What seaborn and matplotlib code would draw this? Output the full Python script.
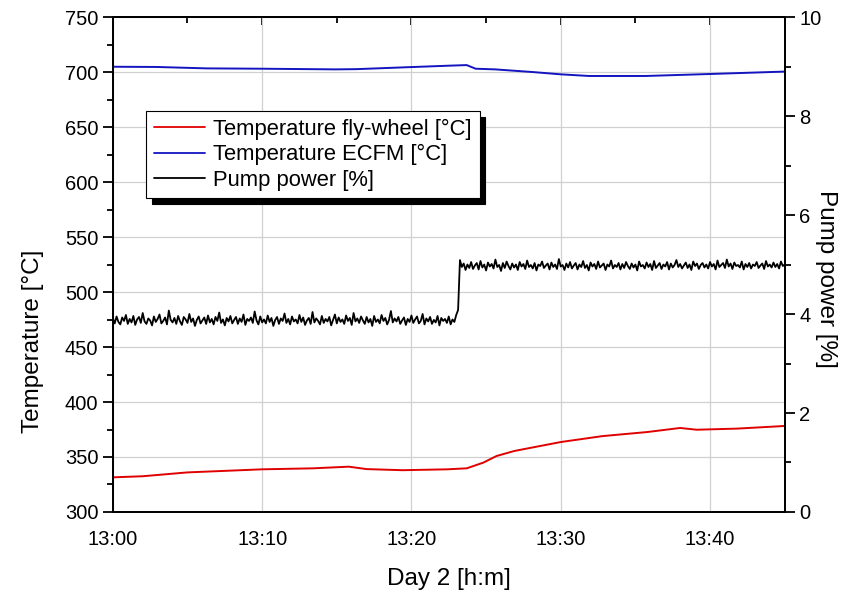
import numpy as np
import pandas as pd
import matplotlib.pyplot as plt
import seaborn as sns
from matplotlib.ticker import MultipleLocator

# minutes after 13:00
red_min = [0, 2, 5, 10, 13.4, 15.8, 17, 19.4, 22.4, 23.7, 24.8, 25.7, 26.9, 30, 32.8, 35.8, 38, 39.1, 41.8, 45]
red_val = [331.5, 332.5, 336.0, 338.8, 339.7, 341.2, 339.0, 338.0, 338.8, 339.7, 344.8, 350.9, 355.5, 363.6,
           369.0, 372.7, 376.4, 374.8, 375.8, 378.2]

blue_min = [0, 2.9, 6.3, 10, 14.9, 16.3, 20, 22.6, 23.7, 24.3, 25.6, 28.1, 30, 31.9, 35.7, 40, 45]
blue_val = [704.8, 704.6, 703.3, 703.0, 702.4, 702.6, 704.5, 705.8, 706.3, 703.0, 702.4, 700.0, 697.9,
            696.4, 696.4, 698.2, 700.4]

# pump power, one reading every 0.125 min (before / after the step)
pump_low = [3.92, 3.81, 3.95, 3.84, 3.79, 3.93, 3.86, 3.98, 3.80, 3.90, 3.83, 3.96,
            3.78, 3.89, 3.94, 3.82, 4.02, 3.85, 3.80, 3.91, 3.87, 3.77, 3.95, 3.84,
            3.90, 3.99, 3.81, 3.86, 3.93, 3.79, 4.07, 3.88, 3.83, 3.92, 3.80, 3.96,
            3.85, 3.78, 3.94, 3.89, 3.82, 4.00, 3.84, 3.91, 3.76, 3.88, 3.95, 3.81,
            3.87, 3.93, 3.80, 3.97, 3.83, 3.90, 3.79, 3.94, 3.86, 4.03, 3.82, 3.89,
            3.77, 3.92, 3.85, 3.96, 3.81, 3.88, 3.94, 3.80, 3.91, 3.84, 3.99, 3.78,
            3.90, 3.86, 3.93, 3.82, 4.05, 3.87, 3.79, 3.95, 3.83, 3.89, 3.81, 3.97,
            3.84, 3.92, 3.76, 3.88, 3.94, 3.80, 3.91, 3.86, 4.01, 3.82, 3.90, 3.79,
            3.95, 3.85, 3.89, 3.81, 3.98, 3.84, 3.93, 3.78, 3.87, 3.92, 3.80, 4.04,
            3.83, 3.91, 3.86, 3.79, 3.96, 3.82, 3.90, 3.85, 3.94, 3.77, 3.88, 3.99,
            3.81, 3.93, 3.84, 3.89, 3.80, 3.97, 3.86, 3.92, 3.78, 4.02, 3.85, 3.91,
            3.82, 3.95, 3.87, 3.80, 3.94, 3.83, 3.90, 3.76, 3.96, 3.84, 3.89, 3.81,
            3.98, 3.86, 3.92, 3.79, 3.88, 4.06, 3.83, 3.91, 3.85, 3.94, 3.80, 3.87,
            3.93, 3.78, 3.90, 3.84, 3.97, 3.82, 3.89, 3.95, 3.81, 3.86, 4.00, 3.79,
            3.91, 3.85, 3.94, 3.80, 3.88, 3.83, 3.96, 3.77, 3.92, 3.86, 3.90, 3.82,
            3.95, 3.79, 3.89, 3.84, 3.98, 4.08]
pump_high = [5.09, 4.95, 5.02, 4.89, 5.00, 4.93, 5.05, 4.91, 4.98, 5.03, 4.90, 5.07,
             4.94, 5.00, 4.88, 5.04, 4.96, 5.01, 4.92, 5.10, 4.95, 4.99, 4.87, 5.03,
             4.93, 5.06, 4.97, 4.90, 5.02, 4.94, 5.00, 4.89, 5.05, 4.96, 5.01, 4.91,
             5.08, 4.95, 4.99, 4.92, 5.03, 4.88, 5.00, 4.97, 5.06, 4.93, 4.98, 5.02,
             4.90, 5.04, 4.95, 5.00, 4.91, 5.11, 4.96, 4.99, 4.89, 5.02, 4.94, 5.05,
             4.92, 4.98, 5.03, 4.90, 5.00, 4.95, 5.07, 4.93, 4.99, 4.88, 5.04, 4.96,
             5.01, 4.91, 5.06, 4.94, 4.98, 5.02, 4.89, 5.00, 4.96, 5.08, 4.92, 4.99,
             4.95, 5.03, 4.90, 5.01, 4.93, 5.05, 4.97, 4.91, 5.02, 4.94, 5.00, 4.88,
             5.06, 4.96, 4.99, 4.92, 5.04, 4.95, 5.01, 4.89, 5.07, 4.93, 4.98, 5.03,
             4.91, 5.00, 4.96, 5.05, 4.90, 5.02, 4.94, 4.99, 5.09, 4.95, 5.01, 4.92,
             4.98, 5.04, 4.93, 5.00, 4.89, 5.06, 4.97, 5.02, 4.91, 4.99, 5.03, 4.94,
             5.00, 4.92, 5.05, 4.96, 5.01, 4.90, 5.08, 4.95, 4.99, 5.03, 4.93, 5.10,
             4.96, 5.02, 4.91, 5.04, 4.97, 4.99, 4.94, 5.06, 4.90, 5.01, 4.95, 5.03,
             4.92, 5.00, 4.97, 5.05, 4.93, 4.98, 5.02, 4.91, 5.07, 4.96, 5.00, 4.94,
             5.04, 4.95, 5.01, 4.92, 5.06, 4.97, 5.00]
pump_min = list(np.arange(len(pump_low)) * 0.125) + list(23.25 + np.arange(len(pump_high)) * 0.125)
pump_val = pump_low + pump_high

x_ticks = [0, 10, 20, 30, 40]
x_labels = ["13:00", "13:10", "13:20", "13:30", "13:40"]

sns.set_style("white")
plt.rcParams['font.family'] = ['Liberation Sans', 'DejaVu Sans']
plt.rcParams['text.color'] = 'black'
plt.rcParams['axes.labelcolor'] = 'black'
plt.rcParams['xtick.color'] = 'black'
plt.rcParams['ytick.color'] = 'black'

fig = plt.figure(figsize=(8.68, 5.93), dpi=100)
ax = fig.add_axes([0.130, 0.1366, 0.774, 0.8347])
ax2 = ax.twinx()

red_df = pd.DataFrame({"t": red_min, "v": red_val})
blue_df = pd.DataFrame({"t": blue_min, "v": blue_val})
pump_df = pd.DataFrame({"t": pump_min, "v": pump_val})

sns.lineplot(data=red_df, x="t", y="v", ax=ax, color="#e00000", lw=1.4, legend=False)
sns.lineplot(data=blue_df, x="t", y="v", ax=ax, color="#1414c0", lw=1.4, legend=False)
sns.lineplot(data=pump_df, x="t", y="v", ax=ax2, color="black", lw=1.3, legend=False)

ax.set_xlim(0, 45)
ax.set_ylim(300, 750)
ax2.set_ylim(0, 10)

ax.set_xticks(x_ticks)
ax.set_xticklabels(x_labels)
ax.xaxis.set_minor_locator(MultipleLocator(5))
ax.yaxis.set_major_locator(MultipleLocator(50))
ax.yaxis.set_minor_locator(MultipleLocator(25))
ax2.yaxis.set_major_locator(MultipleLocator(2))
ax2.yaxis.set_minor_locator(MultipleLocator(1))

ax.grid(True, which="major", color="#d0d0d0", lw=0.9)
ax.set_axisbelow(True)

for a in (ax, ax2):
    for s in a.spines.values():
        s.set_color("black")
        s.set_linewidth(1.3)

ax.tick_params(axis="both", which="major", direction="out", length=7, width=1.3, labelsize=14.5, colors="black")
ax.tick_params(axis="both", which="minor", direction="out", length=4, width=1.3)
ax.tick_params(axis="x", which="major", pad=6)
ax.tick_params(axis="y", which="both", left=True)
ax2.tick_params(axis="y", which="major", direction="out", length=7, width=1.3, labelsize=14.5, colors="black")
ax2.tick_params(axis="y", which="minor", direction="out", length=4, width=1.3)
ax2.tick_params(axis="y", which="both", right=True)

# inward ticks along the top edge
top = ax.secondary_xaxis("top")
top.set_xticks(x_ticks)
top.set_xticklabels([])
top.xaxis.set_minor_locator(MultipleLocator(5))
top.tick_params(which="major", direction="in", length=6, width=1.3)
top.tick_params(which="minor", direction="in", length=4, width=1.3)
top.spines["top"].set_linewidth(1.3)

ax.set_xlabel("Day 2 [h:m]", fontsize=17.5, labelpad=14)
ax.set_ylabel("Temperature [°C]", fontsize=17.5)
ax.yaxis.set_label_coords(-0.102, 0.345)
ax2.set_ylabel("Pump power [%]", fontsize=17.5, rotation=270, labelpad=30)
ax2.yaxis.set_label_coords(1.078, 0.47)

handles = ax.get_lines()[:2] + ax2.get_lines()[:1]
labels = ["Temperature fly-wheel [°C]", "Temperature ECFM [°C]", "Pump power [%]"]
leg = ax2.legend(handles, labels, loc="upper left", bbox_to_anchor=(0.05, 0.81), fontsize=15.8,
                 frameon=True, fancybox=False, edgecolor="black", framealpha=1,
                 shadow={"color": "black", "alpha": 1, "ox": 4, "oy": -4},
                 handlelength=2.3, labelspacing=0.2, borderpad=0.35, handletextpad=0.4, borderaxespad=0)
leg.get_frame().set_linewidth(0.8)
for h in leg.get_lines():
    h.set_linewidth(1.3)

plt.savefig("out.png", dpi=100)
plt.close()
